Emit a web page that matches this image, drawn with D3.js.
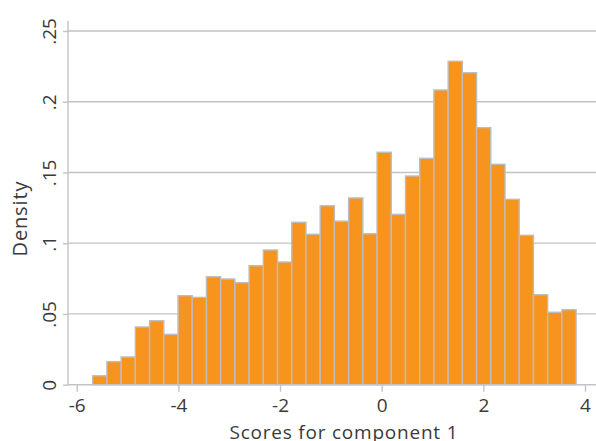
<!DOCTYPE html>
<html>
<head>
<meta charset="utf-8">
<script src="https://cdn.jsdelivr.net/npm/d3@7"></script>
<style>
  html, body { margin: 0; padding: 0; background: #fff; }
  svg { display: block; }
  text { font-family: "Open Sans", sans-serif; fill: #3a3a3a; }
</style>
</head>
<body>
<svg id="chart" width="596" height="441"></svg>
<script>
// ---- data ----
const binStart = -5.685;
const binWidth = 0.2797;
const densities = [0.0063, 0.0163, 0.0196, 0.0408, 0.0452, 0.0356, 0.0629, 0.0617,
  0.0763, 0.0747, 0.0721, 0.0841, 0.0952, 0.0867, 0.1148, 0.1063, 0.1265, 0.1156,
  0.1320, 0.1067, 0.1643, 0.1204, 0.1475, 0.1600, 0.2083, 0.2286, 0.2205, 0.1817,
  0.1558, 0.1310, 0.1056, 0.0636, 0.0512, 0.0530];
const xTicks = [-6, -4, -2, 0, 2, 4];
const xTickLabels = ["-6", "-4", "-2", "0", "2", "4"];
const yTicks = [0, 0.05, 0.1, 0.15, 0.2, 0.25];
const yTickLabels = ["0", ".05", ".1", ".15", ".2", ".25"];
const xTitle = "Scores for component 1";
const yTitle = "Density";

// ---- layout ----
const svg = d3.select("#chart");
const pLeft = 68, pRight = 596, pTop = 20.7, pBottom = 384.7;
const x = d3.scaleLinear().domain([-6, 4]).range([76.7, 585]);
const y = d3.scaleLinear().domain([0, 0.25]).range([pBottom, 31]);
const grid = "#c3c3c7";
const fontFam = "'Open Sans', sans-serif";
const fs = 19;

// gridlines
svg.append("g").selectAll("line").data(yTicks.filter(d => d > 0)).join("line")
  .attr("x1", pLeft).attr("x2", pRight)
  .attr("y1", d => y(d)).attr("y2", d => y(d))
  .attr("stroke", grid).attr("stroke-width", 1.3);

// bars
const bins = densities.map((d, i) => ({ x0: binStart + i * binWidth, x1: binStart + (i + 1) * binWidth, v: d }));
svg.append("g").selectAll("rect").data(bins).join("rect")
  .attr("x", d => x(d.x0))
  .attr("width", d => x(d.x1) - x(d.x0))
  .attr("y", d => y(d.v))
  .attr("height", d => y(0) - y(d.v))
  .attr("fill", "#f7941e")
  .attr("stroke", "#bdbdc0")
  .attr("stroke-width", 1.4);

// x axis
const xAxis = d3.axisBottom(x).tickValues(xTicks)
  .tickFormat((d, i) => xTickLabels[i]).tickSize(7).tickSizeOuter(0).tickPadding(0);
const gx = svg.append("g").attr("transform", `translate(0,${pBottom})`).call(xAxis);
gx.select(".domain").remove();
gx.append("line").attr("x1", pLeft).attr("x2", pRight).attr("y1", 0).attr("y2", 0)
  .attr("stroke", grid).attr("stroke-width", 1.4);
gx.selectAll(".tick line").attr("stroke", grid).attr("stroke-width", 1.4);
gx.selectAll(".tick text").attr("y", 27.5).attr("dy", null)
  .attr("font-size", fs).attr("fill", "#3a3a3a")
  .style("font-family", fontFam);

// y axis
const yAxis = d3.axisLeft(y).tickValues(yTicks)
  .tickFormat((d, i) => yTickLabels[i]).tickSize(5).tickSizeOuter(0);
const gy = svg.append("g").attr("transform", `translate(${pLeft},0)`).call(yAxis);
gy.select(".domain").remove();
gy.append("line").attr("x1", 0).attr("x2", 0).attr("y1", pTop).attr("y2", pBottom)
  .attr("stroke", grid).attr("stroke-width", 1.4);
gy.selectAll(".tick line").attr("stroke", grid).attr("stroke-width", 1.4);
gy.selectAll(".tick text")
  .attr("x", null).attr("dy", null)
  .attr("transform", "translate(-12,0) rotate(-90)")
  .attr("text-anchor", "middle")
  .attr("font-size", fs).attr("fill", "#3a3a3a")
  .style("font-family", fontFam);

// titles
svg.append("text").attr("x", 343.5).attr("y", 438.5)
  .attr("text-anchor", "middle").attr("font-size", 19)
  .attr("textLength", 228).attr("lengthAdjust", "spacing").text(xTitle);
svg.append("text").attr("transform", "translate(27.3,219) rotate(-90)")
  .attr("text-anchor", "middle").attr("font-size", 20)
  .attr("textLength", 75).attr("lengthAdjust", "spacing").text(yTitle);
</script>
</body>
</html>
